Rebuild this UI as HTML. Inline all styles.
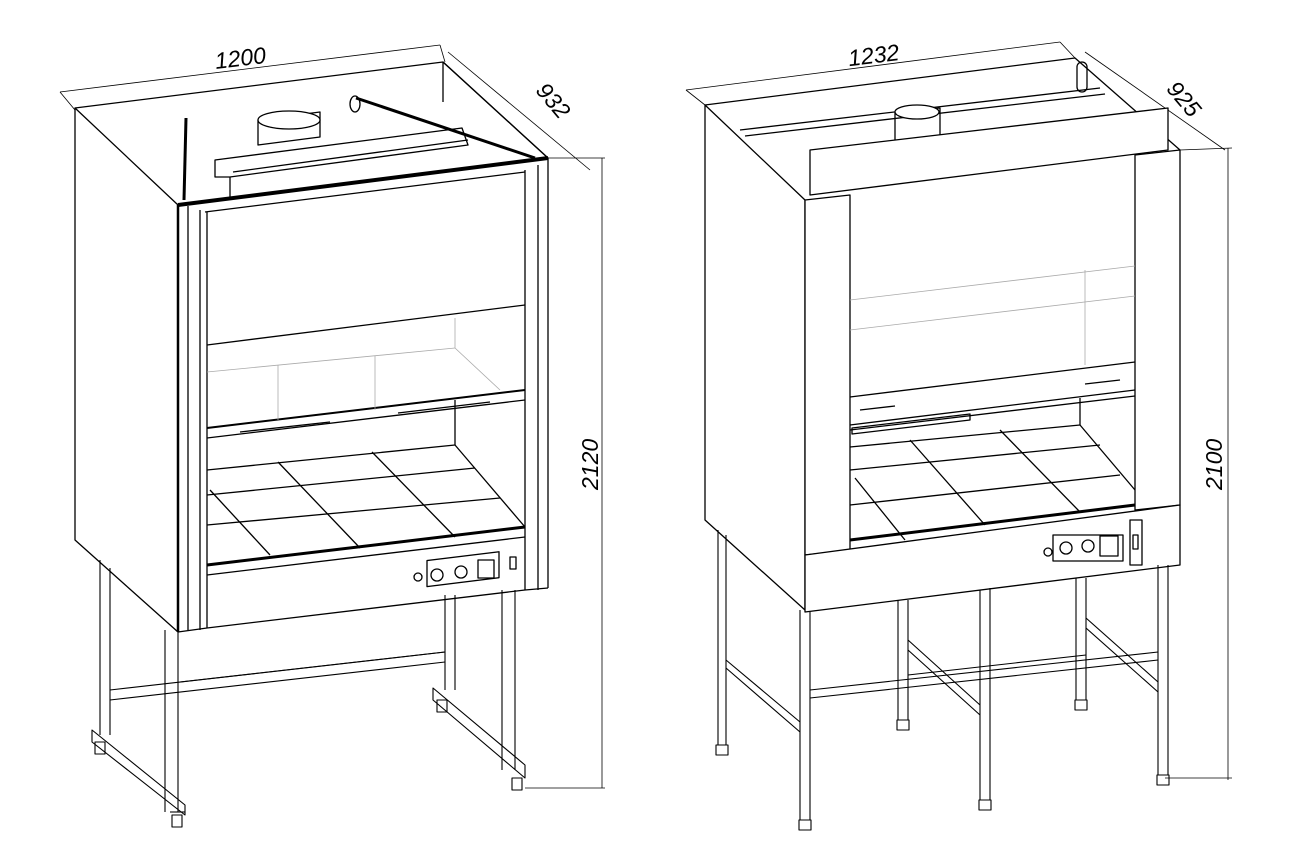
<!DOCTYPE html>
<html><head><meta charset="utf-8"><style>
html,body{margin:0;padding:0;background:#fff;}
svg{display:block}
text{font-family:"Liberation Sans",sans-serif;font-style:italic;font-size:23px;fill:#000;stroke:none}
</style></head><body>
<svg width="1292" height="868" viewBox="0 0 1292 868" xmlns="http://www.w3.org/2000/svg" fill="none" stroke="#000" stroke-width="1.3" stroke-linejoin="round">
<!-- ===== LEFT CABINET ===== -->
<g stroke-width="0.8">
<line x1="60" y1="92" x2="440" y2="45"/><line x1="60" y1="92" x2="75" y2="110"/><line x1="440" y1="45" x2="445" y2="62"/>
<line x1="448" y1="52" x2="590" y2="170"/><line x1="548" y1="158" x2="605" y2="158"/>
<line x1="602" y1="158" x2="602" y2="788"/><line x1="525" y1="788" x2="605" y2="788"/>
</g>
<text x="215" y="66" transform="rotate(-7 240 60)">1200</text>
<text x="540" y="112" transform="rotate(50 560 96)">932</text>
<text x="598" y="490" transform="rotate(-90 598 490)">2120</text>
<polygon points="75,108 178,205 178,632 75,540" fill="#fff"/>
<polyline points="75,108 443,62 548,158"/>
<line x1="443" y1="62" x2="443" y2="102"/>
<polygon points="258,120 320,112 320,137 258,145"/>
<ellipse cx="289" cy="120" rx="31" ry="9" fill="#fff"/>
<polygon points="215,160 462,128 468,145 230,177 215,177"/>
<line x1="230" y1="177" x2="230" y2="200"/>
<line x1="233" y1="172" x2="468" y2="140"/>
<line x1="186" y1="118" x2="184" y2="200" stroke-width="3"/>
<line x1="356" y1="98" x2="535" y2="158" stroke-width="3"/>
<ellipse cx="355" cy="104" rx="5" ry="8"/>
<line x1="443" y1="62" x2="548" y2="158"/>
<line x1="548" y1="158" x2="548" y2="588"/>
<line x1="538" y1="165" x2="538" y2="590"/><line x1="525" y1="170" x2="525" y2="590"/>
<line x1="525" y1="590" x2="548" y2="588"/>
<line x1="178" y1="205" x2="548" y2="158" stroke-width="4"/>
<line x1="205" y1="212" x2="525" y2="172"/>
<line x1="178" y1="205" x2="178" y2="632" stroke-width="2.5"/>
<line x1="188" y1="206" x2="188" y2="630"/>
<line x1="200" y1="210" x2="200" y2="630"/><line x1="207" y1="212" x2="207" y2="628"/>
<line x1="178" y1="632" x2="207" y2="628"/>
<line x1="207" y1="345" x2="525" y2="305"/>
<line x1="207" y1="428" x2="525" y2="390" stroke-width="2"/>
<line x1="207" y1="438" x2="525" y2="400"/>
<g stroke="#aaa" stroke-width="0.8">
<line x1="207" y1="372" x2="455" y2="348"/><line x1="455" y1="318" x2="455" y2="348"/><line x1="455" y1="348" x2="500" y2="390"/>
<line x1="278" y1="365" x2="278" y2="420"/><line x1="375" y1="356" x2="375" y2="410"/>
</g>
<line x1="240" y1="432" x2="330" y2="422"/><line x1="398" y1="413" x2="490" y2="402"/>
<line x1="455" y1="400" x2="455" y2="445"/><line x1="455" y1="445" x2="525" y2="527"/>
<line x1="207" y1="470" x2="455" y2="445"/>
<line x1="207" y1="495" x2="475" y2="468"/><line x1="207" y1="525" x2="500" y2="498"/>
<line x1="278" y1="462" x2="360" y2="548"/><line x1="372" y1="452" x2="455" y2="537"/>
<line x1="210" y1="490" x2="270" y2="555"/>
<line x1="207" y1="565" x2="525" y2="527" stroke-width="3"/>
<line x1="207" y1="575" x2="525" y2="537"/>
<line x1="207" y1="628" x2="525" y2="590"/>
<rect x="427" y="560" width="72" height="26" transform="skewY(-7) translate(0 53)"/>
<circle cx="437" cy="575" r="6"/><circle cx="461" cy="572" r="6"/>
<rect x="478" y="560" width="16" height="18"/><rect x="510" y="557" width="6" height="12"/>
<circle cx="418" cy="577" r="4"/>
<g stroke-width="1.1">
<line x1="165" y1="630" x2="165" y2="812"/><line x1="178" y1="632" x2="178" y2="812"/>
<line x1="100" y1="560" x2="100" y2="735"/><line x1="110" y1="568" x2="110" y2="735"/>
<polygon points="92,730 185,805 185,815 92,742"/>
<line x1="170" y1="812" x2="185" y2="812"/>
<rect x="172" y="815" width="10" height="12"/><rect x="95" y="742" width="10" height="12"/>
<line x1="110" y1="690" x2="445" y2="652"/><line x1="110" y1="700" x2="445" y2="662"/>
<line x1="180" y1="682" x2="445" y2="652"/>
<line x1="445" y1="595" x2="445" y2="690"/><line x1="455" y1="595" x2="455" y2="690"/>
<line x1="502" y1="590" x2="502" y2="770"/><line x1="515" y1="590" x2="515" y2="770"/>
<polygon points="433,688 525,765 525,778 433,700"/>
<rect x="512" y="778" width="10" height="12"/><rect x="437" y="700" width="10" height="12"/>
</g>

<!-- ===== RIGHT CABINET ===== -->
<g stroke-width="0.8">
<line x1="686" y1="90" x2="1060" y2="42"/><line x1="686" y1="90" x2="705" y2="105"/><line x1="1060" y1="42" x2="1075" y2="58"/>
<line x1="1085" y1="52" x2="1225" y2="150"/><line x1="1180" y1="150" x2="1232" y2="148"/>
<line x1="1228" y1="148" x2="1228" y2="780"/><line x1="1165" y1="778" x2="1232" y2="778"/>
</g>
<text x="848" y="63" transform="rotate(-7 875 55)">1232</text>
<text x="1170" y="110" transform="rotate(50 1190 95)">925</text>
<text x="1222" y="490" transform="rotate(-90 1222 490)">2100</text>
<polygon points="705,105 805,200 805,610 705,520" fill="#fff"/>
<polyline points="705,105 1075,58 1180,150"/>
<line x1="740" y1="130" x2="1100" y2="88"/><line x1="745" y1="136" x2="1105" y2="94"/>
<polygon points="895,112 940,108 940,140 895,144"/><ellipse cx="917" cy="112" rx="22" ry="7" fill="#fff"/>
<rect x="1077" y="62" width="10" height="30" rx="5"/>
<polygon points="810,150 1168,108 1168,150 810,195" fill="#fff"/>
<polygon points="805,200 850,195 850,550 805,555" fill="#fff"/>
<polygon points="1135,155 1180,150 1180,505 1135,510" fill="#fff"/>
<line x1="850" y1="330" x2="1135" y2="296" stroke="#aaa" stroke-width="0.8"/>
<line x1="850" y1="300" x2="1135" y2="266" stroke="#aaa" stroke-width="0.8"/>
<line x1="1085" y1="270" x2="1085" y2="365" stroke="#aaa" stroke-width="0.8"/>
<line x1="850" y1="397" x2="1135" y2="362"/>
<line x1="850" y1="430" x2="1135" y2="396"/>
<line x1="850" y1="425" x2="1135" y2="390"/>
<line x1="860" y1="410" x2="895" y2="406"/><line x1="1085" y1="384" x2="1120" y2="380"/>
<polygon points="852,428 970,414 970,420 852,434"/>
<line x1="1080" y1="398" x2="1080" y2="425"/><line x1="1080" y1="425" x2="1135" y2="490"/>
<line x1="850" y1="447" x2="1080" y2="425"/>
<line x1="850" y1="470" x2="1100" y2="445"/><line x1="850" y1="505" x2="1120" y2="475"/>
<line x1="910" y1="440" x2="985" y2="525"/><line x1="1000" y1="430" x2="1080" y2="512"/>
<line x1="855" y1="478" x2="905" y2="540"/>
<line x1="850" y1="540" x2="1135" y2="505" stroke-width="3"/>
<polygon points="805,555 1180,505 1180,565 805,612" fill="#fff"/>
<circle cx="1048" cy="552" r="4"/>
<rect x="1053" y="535" width="70" height="26"/>
<circle cx="1066" cy="548" r="6"/><circle cx="1088" cy="546" r="6"/><rect x="1100" y="536" width="18" height="20"/>
<rect x="1130" y="520" width="12" height="45"/><rect x="1133" y="535" width="5" height="14"/>
<g stroke-width="1.1">
<line x1="800" y1="610" x2="800" y2="820"/><line x1="810" y1="612" x2="810" y2="820"/><rect x="799" y="820" width="12" height="10"/>
<line x1="980" y1="590" x2="980" y2="800"/><line x1="990" y1="588" x2="990" y2="800"/><rect x="979" y="800" width="12" height="10"/>
<line x1="1158" y1="565" x2="1158" y2="775"/><line x1="1168" y1="565" x2="1168" y2="775"/><rect x="1157" y="775" width="12" height="10"/>
<line x1="718" y1="530" x2="718" y2="745"/><line x1="726" y1="535" x2="726" y2="745"/><rect x="716" y="745" width="12" height="10"/>
<line x1="898" y1="600" x2="898" y2="720"/><line x1="908" y1="600" x2="908" y2="720"/><rect x="897" y="720" width="12" height="10"/>
<line x1="1076" y1="578" x2="1076" y2="700"/><line x1="1086" y1="578" x2="1086" y2="700"/><rect x="1075" y="700" width="12" height="10"/>
<line x1="726" y1="660" x2="800" y2="722"/><line x1="726" y1="668" x2="800" y2="732"/>
<line x1="908" y1="640" x2="980" y2="705"/><line x1="908" y1="650" x2="980" y2="715"/>
<line x1="1086" y1="618" x2="1158" y2="682"/><line x1="1086" y1="628" x2="1158" y2="692"/>
<line x1="810" y1="690" x2="1158" y2="652"/><line x1="810" y1="698" x2="1158" y2="660"/>
<line x1="908" y1="675" x2="1086" y2="655"/>
</g>
</svg>
</body></html>
